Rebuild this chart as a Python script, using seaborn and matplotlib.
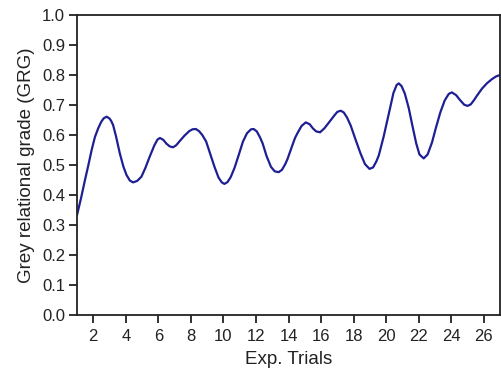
import matplotlib
matplotlib.use("Agg")
import matplotlib.pyplot as plt
import seaborn as sns
import pandas as pd

# Grey relational grade (x = trial position, y = GRG)
trial = [1.0, 1.25, 1.49, 1.7, 1.9, 2.1, 2.3, 2.5, 2.65, 2.82, 3.0, 3.1, 3.22, 3.4,
         3.63, 3.85, 4.04, 4.25, 4.45, 4.7, 4.96, 5.2, 5.47, 5.75, 5.95, 6.1, 6.3,
         6.5, 6.7, 6.9, 7.1, 7.35, 7.61, 7.9, 8.1, 8.3, 8.5, 8.7, 8.94, 9.2, 9.45,
         9.7, 9.9, 10.06, 10.25, 10.45, 10.68, 10.95, 11.2, 11.45, 11.7, 11.86,
         12.05, 12.25, 12.41, 12.65, 12.92, 13.15, 13.39, 13.6, 13.8, 13.94, 14.2,
         14.4, 14.55, 14.8, 15.06, 15.3, 15.5, 15.7, 15.94, 16.2, 16.49, 16.8, 17.0,
         17.21, 17.4, 17.6, 17.82, 18.1, 18.43, 18.7, 18.98, 19.2, 19.4, 19.55,
         19.85, 20.17, 20.45, 20.65, 20.78, 20.95, 21.15, 21.39, 21.6, 21.85, 22.05,
         22.31, 22.55, 22.82, 23.05, 23.33, 23.6, 23.85, 24.04, 24.3, 24.55, 24.8,
         25.0, 25.2, 25.4, 25.57, 25.9, 26.19, 26.5, 26.75, 27.0]
grg = [0.333, 0.39, 0.45, 0.50, 0.55, 0.593, 0.622, 0.645, 0.656, 0.661, 0.655, 0.647,
       0.633, 0.595, 0.539, 0.495, 0.467, 0.448, 0.442, 0.447, 0.461, 0.49, 0.528,
       0.565, 0.585, 0.59, 0.584, 0.571, 0.562, 0.559, 0.566, 0.582, 0.598, 0.613,
       0.619, 0.62, 0.613, 0.60, 0.578, 0.535, 0.494, 0.458, 0.442, 0.437, 0.443,
       0.46, 0.49, 0.535, 0.578, 0.606, 0.619, 0.62, 0.612, 0.592, 0.572, 0.53,
       0.494, 0.479, 0.476, 0.484, 0.503, 0.52, 0.56, 0.59, 0.606, 0.63, 0.642,
       0.636, 0.622, 0.612, 0.609, 0.622, 0.642, 0.664, 0.677, 0.681, 0.675, 0.658,
       0.632, 0.588, 0.538, 0.503, 0.487, 0.492, 0.512, 0.532, 0.595, 0.672, 0.74,
       0.767, 0.772, 0.763, 0.738, 0.69, 0.635, 0.572, 0.535, 0.522, 0.535, 0.575,
       0.622, 0.675, 0.715, 0.737, 0.742, 0.733, 0.716, 0.701, 0.697, 0.702, 0.716,
       0.73, 0.755, 0.772, 0.786, 0.795, 0.80]

df = pd.DataFrame({"trial": trial, "grg": grg})

sns.set_style("ticks")
plt.rcParams["font.family"] = ["Liberation Sans", "DejaVu Sans"]

fig = plt.figure(figsize=(5.01, 3.73), dpi=100)
ax = fig.add_axes([0.1537, 0.1555, 0.8443, 0.8043])

sns.lineplot(data=df, x="trial", y="grg", color="#1f1f94", linewidth=1.6,
             sort=False, ax=ax)

ax.set_xlim(1, 27)
ax.set_ylim(0, 1.0)
ax.set_xticks(range(2, 27, 2))
ax.set_yticks([i / 10 for i in range(11)])
ax.set_yticklabels([f"{i / 10:.1f}" for i in range(11)])
ax.tick_params(axis="both", labelsize=12, length=5.5, width=1.3, color="#222222",
               labelcolor="#222222", pad=3)
ax.tick_params(axis="x", pad=4.5)
for s in ax.spines.values():
    s.set_linewidth(1.3)
    s.set_color("#222222")

ax.set_xlabel("Exp. Trials", fontsize=13.5, color="#222222", labelpad=5)
ax.set_ylabel("Grey relational grade (GRG)", fontsize=13.5, color="#222222", labelpad=5)

fig.savefig("out.png", dpi=100)
